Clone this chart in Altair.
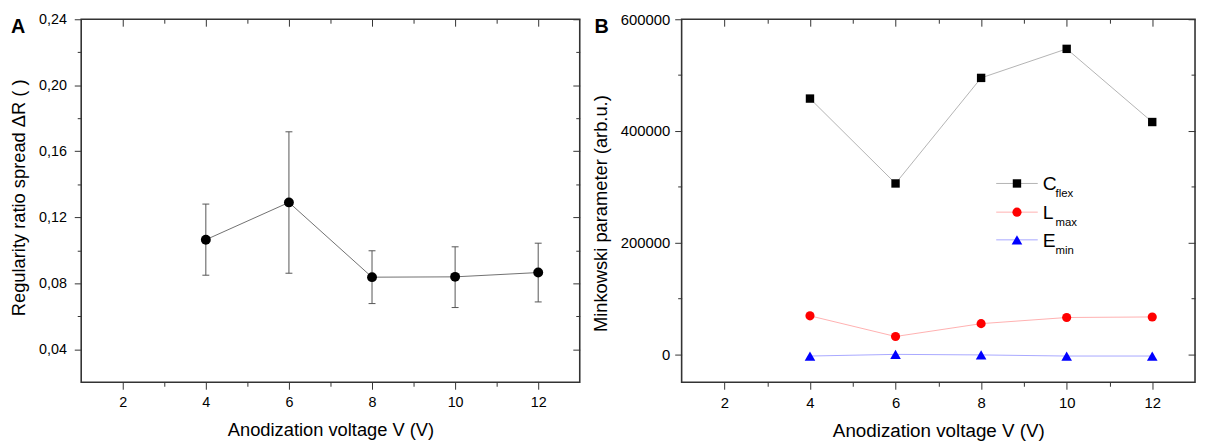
import altair as alt
import pandas as pd

# ---------------- data ----------------
voltage = [4, 6, 8, 10, 12]

ratio = [0.1064, 0.1290, 0.0837, 0.0839, 0.0865]
ratio_hi = [0.1280, 0.1718, 0.0997, 0.1021, 0.1043]
ratio_lo = [0.0849, 0.0861, 0.0677, 0.0653, 0.0687]

c_flex = [458000, 306000, 495000, 547000, 416000]
l_max = [69000, 32000, 55000, 66000, 67000]
e_min = [-3000, 0, -1000, -3000, -3000]

series_names = ["Cflex", "Lmax", "Emin"]
legend_main = ["C", "L", "E"]
legend_sub = ["flex", "max", "min"]

x_major = [2, 4, 6, 8, 10, 12]
x_minor = [3, 5, 7, 9, 11]
ya_major = [0.04, 0.08, 0.12, 0.16, 0.20, 0.24]
ya_minor = [0.06, 0.10, 0.14, 0.18, 0.22]
yb_major = [0, 200000, 400000, 600000]
yb_minor = [100000, 300000, 500000]

x_title = "Anodization voltage V (V)"
ya_title = "Regularity ratio spread \u0394R ( )"
yb_title = "Minkowski parameter (arb.u.)"

# ---------------- styling ----------------
FONT = "Liberation Sans"
WA, HA = 504, 367
WB, HB = 519, 367
line_colors = ["#b3b3b3", "#ffb0b0", "#a8a8ff"]
marker_colors = ["#000000", "#ff0000", "#0000ff"]
shapes = ["square", "circle", "triangle-up"]
sizes = [72, 85, 115]

df_a = pd.DataFrame({"V": voltage, "R": ratio, "hi": ratio_hi, "lo": ratio_lo})
rows = []
for name, vals in zip(series_names, [c_flex, l_max, e_min]):
    for v, val in zip(voltage, vals):
        rows.append({"V": v, "val": val, "series": name})
df_b = pd.DataFrame(rows)
dummy = pd.DataFrame({"a": [0]})

xs = alt.Scale(domain=[1, 13], nice=False, zero=False)
ysa = alt.Scale(domain=[0.02, 0.24], nice=False, zero=False)
ysb = alt.Scale(domain=[-50000, 600000], nice=False, zero=False)


def ax_bottom_major(lfs, tfs):
    return alt.Axis(orient="bottom", values=x_major, tickSize=7, labelPadding=6,
                    labelFontSize=lfs, title=x_title, titleFontSize=tfs,
                    titlePadding=12, domain=False, grid=False, format="d")


def ax_bottom_minor():
    return alt.Axis(orient="bottom", values=x_minor, tickSize=4, labels=False,
                    title=None, domain=False, grid=False)


def ax_top(vals, size, h):
    return alt.Axis(orient="bottom", offset=-h, values=vals, tickSize=size,
                    labels=False, title=None, domain=False, grid=False)


def ax_right(vals, size, w):
    return alt.Axis(orient="left", offset=-w, values=vals, tickSize=size,
                    labels=False, title=None, domain=False, grid=False)


def ax_left_minor(vals):
    return alt.Axis(orient="left", values=vals, tickSize=4, labels=False,
                    title=None, domain=False, grid=False)


# ---------------- panel A ----------------
a_err = alt.Chart(df_a).mark_rule(color="#555555", strokeWidth=1).encode(
    x=alt.X("V:Q", scale=xs, axis=ax_bottom_major(14.5, 18.5)),
    y=alt.Y("lo:Q", scale=ysa, axis=alt.Axis(
        orient="left", values=ya_major, tickSize=7, labelPadding=8,
        labelFontSize=14.5, title=ya_title, titleFontSize=18.5, titlePadding=10,
        titleY=180, domain=False, grid=False,
        labelExpr="replace(format(datum.value, '.2f'), '.', ',')")),
    y2="hi:Q",
)
a_caps = alt.Chart(df_a).transform_fold(["hi", "lo"], as_=["k", "v"]).mark_tick(
    orient="horizontal", size=7, thickness=1, color="#555555", opacity=1
).encode(
    x=alt.X("V:Q", scale=xs, axis=ax_bottom_minor()),
    y=alt.Y("v:Q", scale=ysa, axis=ax_left_minor(ya_minor)),
)
a_line = alt.Chart(df_a).mark_line(color="#707070", strokeWidth=1).encode(
    x=alt.X("V:Q", scale=xs, axis=ax_top(x_major, 7, HA)),
    y=alt.Y("R:Q", scale=ysa, axis=ax_right(ya_major, 7, WA)),
)
a_pts = alt.Chart(df_a).mark_point(shape="circle", filled=True, color="black",
                                   size=100, opacity=1).encode(
    x=alt.X("V:Q", scale=xs, axis=ax_top(x_minor, 4, HA)),
    y=alt.Y("R:Q", scale=ysa, axis=ax_right(ya_minor, 4, WA)),
)
a_lab = alt.Chart(dummy).mark_text(align="left", baseline="top", font=FONT,
                                   fontSize=20, fontWeight="bold", color="black").encode(
    x=alt.value(-71), y=alt.value(-2), text=alt.value("A"))

panel_a = alt.layer(a_err, a_caps, a_line, a_pts, a_lab).resolve_axis(
    x="independent", y="independent").properties(width=WA, height=HA)

# ---------------- panel B ----------------
b_line = alt.Chart(df_b).mark_line(strokeWidth=1).encode(
    x=alt.X("V:Q", scale=xs, axis=ax_bottom_major(15, 19)),
    y=alt.Y("val:Q", scale=ysb, axis=alt.Axis(
        orient="left", values=yb_major, tickSize=7, labelPadding=5,
        labelFontSize=15, title=yb_title, titleFontSize=18.5, titlePadding=10,
        titleY=196, domain=False, grid=False, format="d")),
    color=alt.Color("series:N", scale=alt.Scale(domain=series_names, range=line_colors),
                    legend=None),
    detail="series:N",
)

axes_for_points = [
    (ax_bottom_minor(), ax_left_minor(yb_minor)),
    (ax_top(x_major, 7, HB), ax_right(yb_major, 7, WB)),
    (ax_top(x_minor, 4, HB), ax_right(yb_minor, 4, WB)),
]
b_points = []
for name, shp, col, sz, (axx, axy) in zip(series_names, shapes, marker_colors, sizes,
                                          axes_for_points):
    b_points.append(
        alt.Chart(df_b).transform_filter(alt.datum.series == name).mark_point(
            shape=shp, filled=True, color=col, size=sz, opacity=1
        ).encode(
            x=alt.X("V:Q", scale=xs, axis=axx),
            y=alt.Y("val:Q", scale=ysb, axis=axy),
        )
    )

# legend (drawn inside the plot, as in the reference)
legend_layers = []
leg_y = [166, 195, 223]
for i in range(3):
    yy = leg_y[i]
    legend_layers.append(alt.Chart(dummy).mark_rule(color=line_colors[i], strokeWidth=1).encode(
        x=alt.value(318), x2=alt.value(360), y=alt.value(yy)))
    legend_layers.append(alt.Chart(dummy).mark_point(
        shape=shapes[i], filled=True, color=marker_colors[i], size=sizes[i], opacity=1).encode(
        x=alt.value(339), y=alt.value(yy)))
    legend_layers.append(alt.Chart(dummy).mark_text(
        align="left", baseline="alphabetic", font=FONT, fontSize=19.5, color="black").encode(
        x=alt.value(365), y=alt.value(yy + 7), text=alt.value(legend_main[i])))
    legend_layers.append(alt.Chart(dummy).mark_text(
        align="left", baseline="alphabetic", font=FONT, fontSize=11.5, color="black").encode(
        x=alt.value(378), y=alt.value(yy + 14), text=alt.value(legend_sub[i])))

b_lab = alt.Chart(dummy).mark_text(align="left", baseline="top", font=FONT,
                                   fontSize=20, fontWeight="bold", color="black").encode(
    x=alt.value(-88), y=alt.value(-2), text=alt.value("B"))

panel_b = alt.layer(b_line, *b_points, *legend_layers, b_lab).resolve_axis(
    x="independent", y="independent").properties(width=WB, height=HB)

chart = alt.hconcat(panel_a, panel_b, spacing=9).properties(
    padding=0
).configure_view(
    stroke="#333333", strokeWidth=1.6
).configure_axis(
    labelFont=FONT, titleFont=FONT, labelColor="black", titleColor="black",
    tickColor="#333333", tickWidth=1, titleFontWeight="normal"
)

chart.save("out.html", embed_options={"renderer": "svg", "actions": False})
